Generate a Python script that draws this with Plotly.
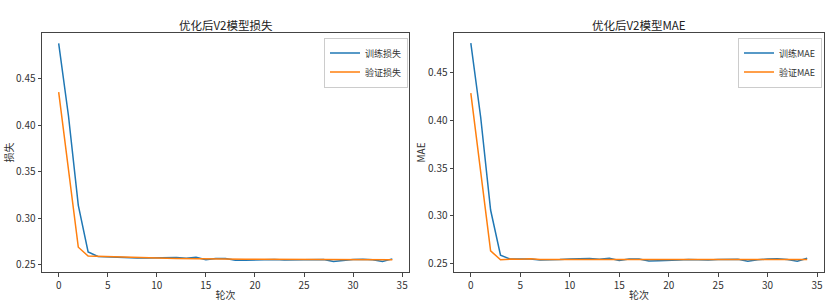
import plotly.graph_objects as go

epochs = list(range(35))

loss_train = [0.488, 0.410, 0.314, 0.264, 0.2590, 0.2585, 0.2585, 0.2575, 0.2575, 0.2575,
              0.2578, 0.2577, 0.2580, 0.2572, 0.2582, 0.2555, 0.2568, 0.2568, 0.2550, 0.2550,
              0.2555, 0.2552, 0.2558, 0.2552, 0.2552, 0.2558, 0.2560, 0.2558, 0.2538, 0.2552,
              0.2558, 0.2562, 0.2555, 0.2538, 0.2565]
loss_val = [0.4357, 0.352, 0.269, 0.2596, 0.2592, 0.2588, 0.2588, 0.2582, 0.2578, 0.2576,
            0.2574, 0.2572, 0.2570, 0.2570, 0.2568, 0.2565, 0.2565, 0.2563, 0.2562, 0.2562,
            0.2560, 0.2560, 0.2560, 0.2558, 0.2562, 0.2558, 0.2558, 0.2557, 0.2557, 0.2557,
            0.2557, 0.2556, 0.2556, 0.2555, 0.2555]
mae_train = [0.4811, 0.403, 0.306, 0.2586, 0.2545, 0.2545, 0.2545, 0.2535, 0.2535, 0.2540,
             0.2545, 0.2545, 0.2552, 0.2543, 0.2553, 0.2530, 0.2545, 0.2545, 0.2525, 0.2528,
             0.2535, 0.2535, 0.2540, 0.2535, 0.2535, 0.2542, 0.2545, 0.2543, 0.2522, 0.2538,
             0.2545, 0.2550, 0.2540, 0.2522, 0.2555]
mae_val = [0.4285, 0.346, 0.2632, 0.2538, 0.2545, 0.2543, 0.2548, 0.2542, 0.2542, 0.2542,
           0.2542, 0.2543, 0.2543, 0.2545, 0.2543, 0.2545, 0.2543, 0.2542, 0.2542, 0.2542,
           0.2543, 0.2543, 0.2543, 0.2545, 0.2548, 0.2543, 0.2543, 0.2542, 0.2542, 0.2542,
           0.2542, 0.2542, 0.2542, 0.2542, 0.2542]

x_ticks = [0, 5, 10, 15, 20, 25, 30, 35]
y_ticks = [0.25, 0.30, 0.35, 0.40, 0.45]

BLUE = "#1f77b4"
ORANGE = "#ff7f0e"
FONT = "Noto Sans CJK SC, SimHei, sans-serif"

fig = go.Figure()
fig.add_trace(go.Scatter(x=epochs, y=loss_train, mode="lines", name="训练损失",
                         line=dict(color=BLUE, width=1.5), xaxis="x", yaxis="y", legend="legend"))
fig.add_trace(go.Scatter(x=epochs, y=loss_val, mode="lines", name="验证损失",
                         line=dict(color=ORANGE, width=1.5), xaxis="x", yaxis="y", legend="legend"))
fig.add_trace(go.Scatter(x=epochs, y=mae_train, mode="lines", name="训练MAE",
                         line=dict(color=BLUE, width=1.5), xaxis="x2", yaxis="y2", legend="legend2"))
fig.add_trace(go.Scatter(x=epochs, y=mae_val, mode="lines", name="验证MAE",
                         line=dict(color=ORANGE, width=1.5), xaxis="x2", yaxis="y2", legend="legend2"))

axis_common = dict(showline=True, linecolor="#444", linewidth=1, mirror=True,
                   ticks="outside", ticklen=3.5, tickcolor="#444", showgrid=False,
                   zeroline=False, tickfont=dict(size=10, color="#333", family=FONT))

ydom = [1 - 275 / 302, 1 - 33 / 302]

legend_common = dict(yanchor="top", xanchor="right", y=1 - 38 / 302,
                     bgcolor="rgba(255,255,255,0.8)", bordercolor="#ccc", borderwidth=1,
                     font=dict(size=9, family=FONT), tracegroupgap=0, itemwidth=30)

fig.update_layout(
    width=834, height=302,
    margin=dict(l=0, r=0, t=0, b=0),
    paper_bgcolor="white", plot_bgcolor="white",
    font=dict(family=FONT, size=10, color="#333"),
    xaxis=dict(domain=[42 / 834, 409 / 834], range=[-1.7, 35.7], tickvals=x_ticks,
               anchor="y", title=dict(text="轮次", font=dict(size=10), standoff=3), **axis_common),
    yaxis=dict(domain=ydom, range=[0.2421, 0.4995], tickvals=y_ticks, tickformat=".2f",
               anchor="x", title=dict(text="损失", font=dict(size=10), standoff=0), **axis_common),
    xaxis2=dict(domain=[454 / 834, 824 / 834], range=[-1.7, 35.7], tickvals=x_ticks,
                anchor="y2", title=dict(text="轮次", font=dict(size=10), standoff=3), **axis_common),
    yaxis2=dict(domain=ydom, range=[0.2407, 0.4920], tickvals=y_ticks, tickformat=".2f",
                anchor="x2", title=dict(text="MAE", font=dict(size=10), standoff=0), **axis_common),
    legend=dict(x=408 / 834, **legend_common),
    legend2=dict(x=822 / 834, **legend_common),
    annotations=[
        dict(text="优化后V2模型损失", x=(42 + 409) / 2 / 834, y=1 - 25 / 302, xref="paper", yref="paper",
             xanchor="center", yanchor="middle", showarrow=False, font=dict(size=11.5, family=FONT, color="#222")),
        dict(text="优化后V2模型MAE", x=(454 + 824) / 2 / 834, y=1 - 25 / 302, xref="paper", yref="paper",
             xanchor="center", yanchor="middle", showarrow=False, font=dict(size=11.5, family=FONT, color="#222")),
    ],
)

fig.write_html("out.html")
